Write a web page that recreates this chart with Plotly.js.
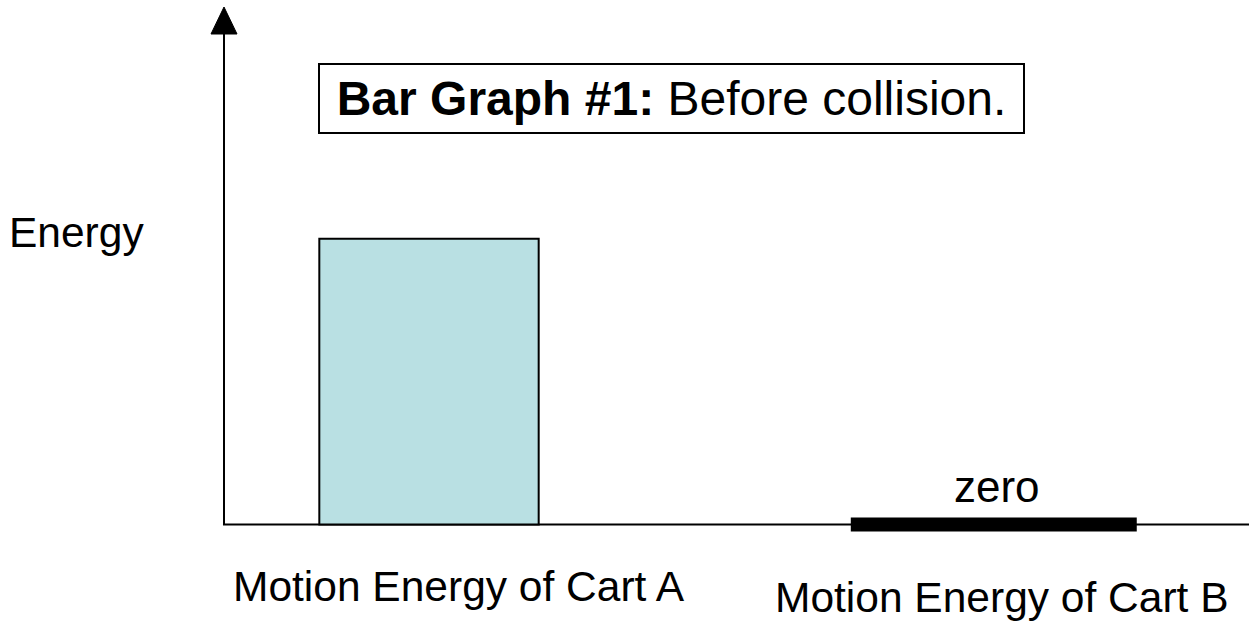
<!DOCTYPE html>
<html>
<head>
<meta charset="utf-8">
<script src="https://cdn.plot.ly/plotly-3.0.1.min.js"></script>
<style>html,body{margin:0;padding:0;background:#fff;}#chart{width:1249px;height:623px;}</style>
</head>
<body>
<div id="chart"></div>
<script>
// Data
var categories = ["Motion Energy of Cart A", "Motion Energy of Cart B"];
var positions = [2.0, 7.51];
var energyValues = [5.52, 0];
var barWidths = [2.14, 2.79];
var valueLabels = ["", "zero"];
var titleText = "<b>Bar Graph #1:</b> Before collision.";
var yLabel = "Energy";

var FONT = "Liberation Sans, Arial, Helvetica, sans-serif";

// Non-zero bars drawn as bars; zero bars drawn as a thick baseline segment
var barX = [], barY = [], barW = [];
var zeroTraces = [];
for (var i = 0; i < categories.length; i++) {
  if (energyValues[i] > 0) {
    barX.push(positions[i]); barY.push(energyValues[i]); barW.push(barWidths[i]);
  } else {
    zeroTraces.push({
      type: "scatter", mode: "lines",
      x: [positions[i] - barWidths[i] / 2, positions[i] + barWidths[i] / 2],
      y: [energyValues[i], energyValues[i]],
      line: {color: "#000", width: 14},
      hoverinfo: "skip", showlegend: false
    });
  }
}

var traces = [{
  type: "bar", x: barX, y: barY, width: barW,
  marker: {color: "#B9E0E3", line: {color: "#000", width: 2}},
  showlegend: false
}].concat(zeroTraces);

var annotations = [];
// category labels
var labelDx = [30, 8];
var labelDy = [62, 73];
for (var j = 0; j < categories.length; j++) {
  annotations.push({
    x: positions[j], y: 0, xref: "x", yref: "y",
    text: categories[j], showarrow: false,
    xanchor: "center", yanchor: "middle",
    xshift: labelDx[j], yshift: -labelDy[j],
    font: {family: FONT, size: 42.5, color: "#000"}
  });
  if (valueLabels[j]) {
    annotations.push({
      x: positions[j], y: energyValues[j], xref: "x", yref: "y",
      text: valueLabels[j], showarrow: false, yshift: 38, xshift: 3,
      xanchor: "center", yanchor: "middle",
      font: {family: FONT, size: 44, color: "#000"}
    });
  }
}
// y label
annotations.push({
  x: 0, y: 0, xref: "paper", yref: "paper", text: yLabel, showarrow: false,
  xanchor: "right", yanchor: "middle",
  font: {family: FONT, size: 42.5, color: "#000"}
});
// title box
annotations.push({
  x: 0, y: 0, xref: "paper", yref: "paper", text: titleText, showarrow: false,
  xanchor: "center", yanchor: "middle",
  font: {family: FONT, size: 48, color: "#000"},
  bgcolor: "#fff", bordercolor: "#000", borderwidth: 2,
  width: 701, height: 65, align: "center", valign: "middle"
});

var layout = {
  width: 1249, height: 623,
  margin: {l: 224, r: 0, t: 7, b: 83},
  paper_bgcolor: "#fff", plot_bgcolor: "#fff",
  showlegend: false,
  xaxis: {range: [0, 10], showgrid: false, zeroline: false, showticklabels: false,
          ticks: "", showline: false, fixedrange: true},
  yaxis: {range: [-0.3, 10], showgrid: false, zeroline: false, showticklabels: false,
          ticks: "", showline: false, fixedrange: true},
  shapes: [
    // x axis line
    {type: "line", xref: "paper", yref: "y", x0: -0.001, x1: 1, y0: 0, y1: 0,
     line: {color: "#000", width: 2}, layer: "below"},
    // y axis line
    {type: "line", xref: "paper", yref: "y", x0: 0, x1: 0, y0: 0, y1: 9.5,
     line: {color: "#000", width: 2}, layer: "below"}
  ],
  annotations: annotations
};

Plotly.newPlot("chart", traces, layout, {staticPlot: true, displayModeBar: false}).then(function(gd){
  // place pixel-positioned annotations (y label, title box) and the arrowhead in paper coords
  var fs = gd._fullLayout._size;
  function px2paperX(px){ return (px - fs.l) / fs.w; }
  function px2paperY(py){ return (fs.t + fs.h - py) / fs.h; }
  var ann = gd.layout.annotations;
  var n = ann.length;
  ann[n-2].x = px2paperX(146); ann[n-2].y = px2paperY(233);
  ann[n-1].x = px2paperX(671.5); ann[n-1].y = px2paperY(98.5);
  var shapes = gd.layout.shapes.slice();
  shapes.push({type: "path", xref: "paper", yref: "paper",
    path: "M" + px2paperX(211) + "," + px2paperY(34) + " L" + px2paperX(224) + "," + px2paperY(7) +
          " L" + px2paperX(237) + "," + px2paperY(34) + " Z",
    fillcolor: "#000", line: {color: "#000", width: 1}});
  shapes[1] = {type: "line", xref: "paper", yref: "paper", x0: 0, x1: 0,
    y0: px2paperY(525), y1: px2paperY(30), line: {color: "#000", width: 2}, layer: "below"};
  return Plotly.relayout(gd, {annotations: ann, shapes: shapes});
});
</script>
</body>
</html>
